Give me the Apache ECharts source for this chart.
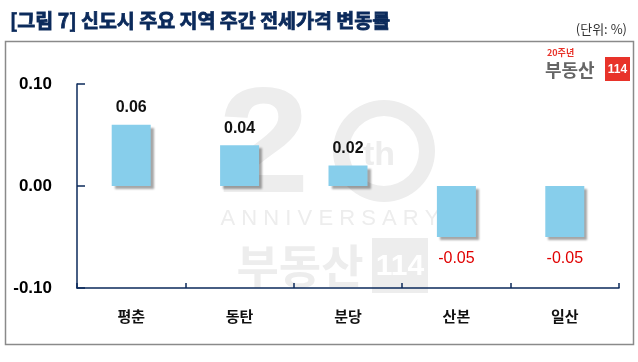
<!DOCTYPE html>
<html><head><meta charset="utf-8">
<script src="https://cdn.jsdelivr.net/npm/echarts@6/dist/echarts.min.js"></script>
<style>html,body{margin:0;padding:0;background:#fff}#c{width:638px;height:362px}</style>
</head><body><div id="c"></div>
<script>
const categories = ['평춘', '동탄', '분당', '산본', '일산'];
const values = [0.06, 0.04, 0.02, -0.05, -0.05];
const yTicks = [-0.10, 0.00, 0.10];

const chart = echarts.init(document.getElementById('c'), null, {renderer: 'canvas'});
const navy = '#0b2a5b';
const wm = '#ededed';
chart.setOption({
  animation: false,
  backgroundColor: '#fff',
  title: [
    {text: '[그림 7] 신도시 주요 지역 주간 전세가격 변동률', left: 5, top: 6,
     textStyle: {fontFamily: 'Noto Sans CJK KR', fontSize: 19.5, fontWeight: 'bold', color: navy,
       textBorderColor: navy, textBorderWidth: 0.8}},
    {text: '(단위: %)', right: 6, top: 18,
     textStyle: {fontFamily: 'Noto Sans CJK KR', fontSize: 13, fontWeight: 'normal', color: '#333'}}
  ],
  graphic: [
    {type: 'rect', z: 0, silent: true, shape: {x: 5.5, y: 41.5, width: 628, height: 303},
     style: {fill: 'none', stroke: '#8a8a8a', lineWidth: 1.5}},
    // watermark
    {type: 'text', z: 0, silent: true, x: 264, y: 151, scaleX: 1.1,
     style: {text: '2', fontFamily: 'Liberation Sans', fontSize: 150, fontWeight: 'bold', fill: wm,
       textAlign: 'center', textVerticalAlign: 'middle'}},
    {type: 'ring', z: 0, silent: true, shape: {cx: 384, cy: 151, r: 51, r0: 35}, style: {fill: wm}},
    {type: 'text', z: 0, silent: true, x: 379, y: 156,
     style: {text: 'th', fontFamily: 'Liberation Sans', fontSize: 34, fontWeight: 'bold', fill: wm,
       textAlign: 'center', textVerticalAlign: 'middle'}},
    {type: 'text', z: 0, silent: true, x: 330, y: 219,
     style: {text: 'A N N I V E R S A R Y', fontFamily: 'Liberation Sans', fontSize: 22, fill: wm,
       textAlign: 'center', textVerticalAlign: 'middle'}},
    {type: 'text', z: 0, silent: true, x: 300, y: 266,
     style: {text: '부동산', fontFamily: 'Noto Sans CJK KR', fontSize: 46, fontWeight: 'bold', fill: wm,
       textAlign: 'center', textVerticalAlign: 'middle'}},
    {type: 'rect', z: 0, silent: true, shape: {x: 372, y: 238, width: 56, height: 55}, style: {fill: wm}},
    {type: 'text', z: 0, silent: true, x: 400, y: 267,
     style: {text: '114', fontFamily: 'Liberation Sans', fontSize: 30, fontWeight: 'bold', fill: '#fff',
       textAlign: 'center', textVerticalAlign: 'middle'}},
    // logo
    {type: 'text', z: 5, silent: true, x: 547, y: 53,
     style: {text: '20주년', fontFamily: 'Noto Sans CJK KR', fontSize: 9, fontWeight: 'bold', fill: '#e8332a',
       textVerticalAlign: 'middle'}},
    {type: 'text', z: 5, silent: true, x: 545, y: 70,
     style: {text: '부동산', fontFamily: 'Noto Sans CJK KR', fontSize: 18, fontWeight: 'bold', fill: '#666',
       textVerticalAlign: 'middle'}},
    {type: 'rect', z: 5, silent: true, shape: {x: 605, y: 57, width: 25, height: 24}, style: {fill: '#e8332a'}},
    {type: 'text', z: 6, silent: true, x: 617.5, y: 69.5,
     style: {text: '114', fontFamily: 'Liberation Sans', fontSize: 12, fontWeight: 'bold', fill: '#fff',
       textAlign: 'center', textVerticalAlign: 'middle'}}
  ],
  grid: {left: 77, right: 19, top: 84, bottom: 74},
  xAxis: [
    {type: 'category', data: categories, position: 'bottom',
     axisLine: {show: false}, axisTick: {show: false},
     axisLabel: {margin: 21, fontFamily: 'Noto Sans CJK KR', fontSize: 15, fontWeight: 'bold', color: '#111'}},
    {type: 'category', data: categories, position: 'bottom',
     axisLine: {show: true, onZero: true, lineStyle: {color: navy, width: 1.5}},
     axisTick: {show: true, inside: true, length: 5, lineStyle: {color: navy, width: 1.5}},
     axisLabel: {show: false}}
  ],
  yAxis: {
    type: 'value', min: -0.1, max: 0.1, interval: 0.1,
    axisLine: {show: true, lineStyle: {color: navy, width: 1.5}},
    axisTick: {show: true, inside: true, length: 8, lineStyle: {color: navy, width: 1.5}},
    splitLine: {show: false},
    axisLabel: {margin: 25, fontFamily: 'Liberation Sans', fontSize: 17, fontWeight: 'bold', color: '#000',
      formatter: v => yTicks.some(t => Math.abs(t - v) < 1e-9) ? v.toFixed(2) : ''}
  },
  series: [{
    type: 'bar', xAxisIndex: 0, barWidth: 39, z: 3,
    data: values.map(v => ({
      value: v,
      label: v >= 0
        ? {show: true, position: 'top', distance: 9, formatter: p => p.value.toFixed(2),
           fontFamily: 'Liberation Sans', fontSize: 16, fontWeight: 'bold', color: '#111'}
        : {show: true, position: 'bottom', distance: 14, formatter: p => p.value.toFixed(2),
           fontFamily: 'Liberation Sans', fontSize: 16, fontWeight: 'normal', color: '#e00000'}
    })),
    itemStyle: {color: '#87CEEB', shadowColor: 'rgba(0,0,0,0.35)', shadowOffsetX: 3, shadowOffsetY: 3, shadowBlur: 2}
  }]
});
</script></body></html>
